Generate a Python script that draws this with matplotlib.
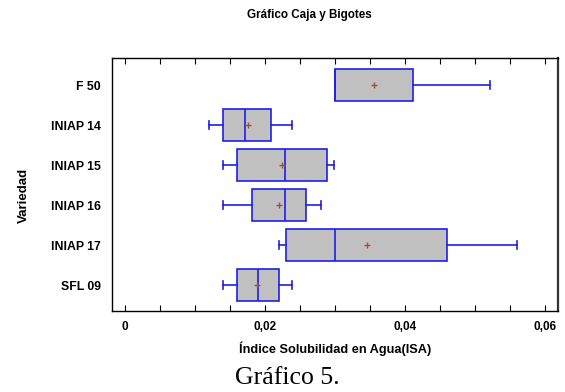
import matplotlib
matplotlib.use("Agg")
import matplotlib.pyplot as plt
from matplotlib.ticker import FuncFormatter, MultipleLocator

plt.rcParams["font.family"] = ["Liberation Sans", "DejaVu Sans"]

# data (top to bottom)
varieties = ["F 50", "INIAP 14", "INIAP 15", "INIAP 16", "INIAP 17", "SFL 09"]
whisker_lo = [0.0300, 0.0120, 0.0140, 0.0140, 0.0220, 0.0140]
q1 = [0.0300, 0.0140, 0.0160, 0.0181, 0.0230, 0.0160]
median = [0.0300, 0.0171, 0.0229, 0.0229, 0.0300, 0.0190]
q3 = [0.0411, 0.0209, 0.0289, 0.0259, 0.0460, 0.0220]
whisker_hi = [0.0521, 0.0238, 0.0299, 0.0280, 0.0560, 0.0239]
means = [0.0356, 0.0175, 0.0224, 0.0220, 0.0346, 0.0189]

BLUE = "#1f1fe8"

fig = plt.figure(figsize=(5.65, 3.92), dpi=100)
ax = fig.add_axes([112 / 565, 1 - 311 / 392, 446 / 565, 253 / 392])

stats = []
for name, lo, a, m, b, hi, mu in zip(varieties, whisker_lo, q1, median, q3, whisker_hi, means):
    stats.append(dict(label=name, whislo=lo, q1=a, med=m, q3=b, whishi=hi, mean=mu, fliers=[]))

# first variety on top
positions = list(range(len(varieties) - 1, -1, -1))
ax.bxp(stats, positions=positions, vert=False, widths=0.8, patch_artist=True,
       showmeans=True, capwidths=0.22,
       boxprops=dict(facecolor="#c0c0c0", edgecolor=BLUE, lw=1.2),
       medianprops=dict(color=BLUE, lw=1.2),
       whiskerprops=dict(color=BLUE, lw=1.2),
       capprops=dict(color=BLUE, lw=1.2),
       meanprops=dict(marker="+", markeredgecolor="#a0522d", markersize=4, mew=1))

ax.set_xlim(-0.00186, 0.06186)
ax.set_ylim(-0.65, 5.675)
ax.xaxis.set_major_locator(MultipleLocator(0.02))
ax.xaxis.set_minor_locator(MultipleLocator(0.005))
ax.xaxis.set_major_formatter(FuncFormatter(lambda v, p: "0" if abs(v) < 1e-9 else f"{v:.2f}".replace(".", ",")))
ax.tick_params(axis="x", which="both", direction="in", top=True, labeltop=False,
               length=4, width=0.8, labelsize=8.5, pad=7)
ax.tick_params(axis="y", length=0, labelsize=8.8, pad=8)
for lab in ax.get_xticklabels() + ax.get_yticklabels():
    lab.set_fontweight("bold")
for side in ["left", "top", "bottom"]:
    ax.spines[side].set_linewidth(1.0)
ax.spines["right"].set_linewidth(1.6)
ax.spines["right"].set_color("#333333")

ax.set_xlabel("Índice Solubilidad en Agua(ISA)", fontsize=9.2, fontweight="bold", labelpad=6)
fig.text(24 / 565, 1 - 195 / 392, "Variedad", rotation=90, ha="center", va="center",
         fontsize=9.5, fontweight="bold")
fig.text(309 / 565, 1 - 15 / 392, "Gráfico Caja y Bigotes", ha="center", va="center",
         fontsize=8.4, fontweight="bold")
fig.text(287 / 565, 1 - 378 / 392, "Gráfico 5.", ha="center", va="center",
         fontsize=18.5, family=["Liberation Serif", "DejaVu Serif"])

fig.savefig("out.png", dpi=100)
